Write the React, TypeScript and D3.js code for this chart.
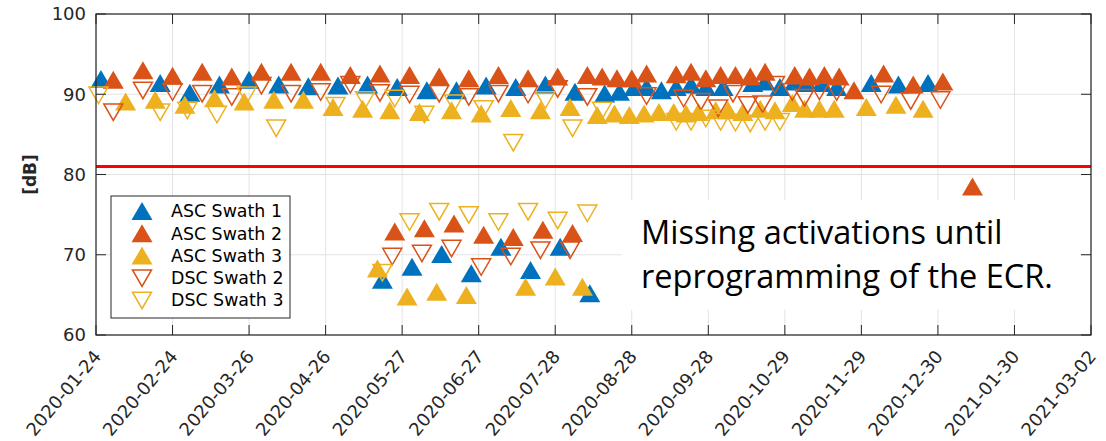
import React from 'react';
import * as d3 from 'd3';

// [date, level in dB]
const ascSwath1: [string, number][] = [
	['2020-01-26', 91.9], ['2020-02-19', 91.4], ['2020-03-02', 90.2], ['2020-03-14', 91.2],
	['2020-03-26', 91.8], ['2020-04-07', 91.2], ['2020-04-19', 91.0], ['2020-05-01', 91.1],
	['2020-05-13', 91.2], ['2020-05-25', 90.9], ['2020-06-06', 90.5], ['2020-06-18', 90.5],
	['2020-06-30', 91.1], ['2020-07-12', 90.9], ['2020-07-24', 91.2], ['2020-08-05', 90.3],
	['2020-08-17', 90.1], ['2020-08-23', 90.3], ['2020-08-29', 90.9], ['2020-09-03', 90.9],
	['2020-09-09', 90.5], ['2020-09-15', 90.9], ['2020-09-21', 91.2], ['2020-09-27', 90.9],
	['2020-10-04', 90.9], ['2020-10-16', 91.4], ['2020-10-21', 91.6], ['2020-10-27', 90.9],
	['2020-11-02', 91.6], ['2020-11-07', 91.4], ['2020-11-13', 91.4], ['2020-11-19', 90.9],
	['2020-12-03', 91.4], ['2020-12-14', 91.2], ['2020-12-26', 91.4],
	['2020-05-19', 66.9], ['2020-05-31', 68.5], ['2020-06-12', 70.1], ['2020-06-24', 67.7],
	['2020-07-06', 71.0], ['2020-07-18', 68.1], ['2020-07-30', 71.0], ['2020-08-11', 65.2],
];

const ascSwath2: [string, number][] = [
	['2020-01-31', 91.8], ['2020-02-12', 93.0], ['2020-02-24', 92.3], ['2020-03-07', 92.8],
	['2020-03-19', 92.2], ['2020-03-31', 92.8], ['2020-04-12', 92.8], ['2020-04-24', 92.8],
	['2020-05-06', 92.4], ['2020-05-18', 92.6], ['2020-05-30', 92.4], ['2020-06-11', 92.2],
	['2020-06-23', 92.0], ['2020-07-05', 92.4], ['2020-07-17', 92.0], ['2020-07-29', 92.2],
	['2020-08-10', 92.4], ['2020-08-16', 92.2], ['2020-08-22', 92.0], ['2020-08-28', 92.0],
	['2020-09-03', 92.6], ['2020-09-15', 92.5], ['2020-09-21', 92.8], ['2020-09-27', 92.0],
	['2020-10-03', 92.4], ['2020-10-09', 92.4], ['2020-10-15', 92.2], ['2020-10-21', 92.8],
	['2020-11-02', 92.4], ['2020-11-08', 92.2], ['2020-11-14', 92.4], ['2020-11-20', 92.2],
	['2020-11-26', 90.5], ['2020-12-08', 92.6], ['2020-12-20', 91.2], ['2021-01-01', 91.6],
	['2021-01-13', 78.5],
	['2020-05-24', 72.9], ['2020-06-05', 73.3], ['2020-06-17', 73.9], ['2020-06-29', 72.5],
	['2020-07-11', 72.2], ['2020-07-23', 73.1], ['2020-08-04', 72.7],
];

const ascSwath3: [string, number][] = [
	['2020-02-05', 89.1], ['2020-02-17', 89.3], ['2020-02-29', 88.7], ['2020-03-12', 89.5],
	['2020-03-24', 89.1], ['2020-04-05', 89.3], ['2020-04-17', 89.3], ['2020-04-29', 88.4],
	['2020-05-11', 88.2], ['2020-05-22', 88.0], ['2020-06-03', 87.8], ['2020-06-16', 88.0],
	['2020-06-28', 87.6], ['2020-07-10', 88.3], ['2020-07-22', 88.0], ['2020-08-03', 88.4],
	['2020-08-14', 87.4], ['2020-08-21', 87.6], ['2020-08-27', 87.4], ['2020-09-02', 87.6],
	['2020-09-08', 87.8], ['2020-09-14', 87.8], ['2020-09-19', 87.6], ['2020-09-24', 87.8],
	['2020-10-01', 88.0], ['2020-10-06', 88.0], ['2020-10-12', 87.8], ['2020-10-19', 88.2],
	['2020-10-25', 88.0], ['2020-11-01', 88.9], ['2020-11-06', 88.2], ['2020-11-12', 88.2],
	['2020-11-18', 88.2], ['2020-12-01', 88.4], ['2020-12-13', 88.7], ['2020-12-24', 88.2],
	['2020-05-17', 68.3], ['2020-05-29', 64.8], ['2020-06-10', 65.4], ['2020-06-22', 65.0],
	['2020-07-16', 66.0], ['2020-07-28', 67.3], ['2020-08-08', 66.0],
];

const dscSwath2: [string, number][] = [
	['2020-01-31', 87.8], ['2020-02-12', 90.5], ['2020-02-24', 90.3], ['2020-03-07', 90.1],
	['2020-03-19', 89.7], ['2020-03-31', 91.1], ['2020-04-12', 90.1], ['2020-04-24', 90.3],
	['2020-05-06', 91.2], ['2020-05-18', 90.2], ['2020-05-30', 90.0], ['2020-06-11', 90.1],
	['2020-06-23', 89.7], ['2020-07-05', 90.1], ['2020-07-17', 90.0], ['2020-07-29', 90.7],
	['2020-08-10', 89.7], ['2020-09-03', 89.8], ['2020-09-18', 89.5], ['2020-09-25', 89.1],
	['2020-10-02', 88.3], ['2020-10-08', 90.1], ['2020-10-14', 88.7], ['2020-10-20', 88.8],
	['2020-10-25', 91.2], ['2020-11-01', 90.3], ['2020-11-06', 89.6], ['2020-11-12', 90.4],
	['2020-11-19', 90.3], ['2020-12-07', 90.0], ['2020-12-19', 89.2], ['2020-12-31', 89.3],
	['2020-05-23', 69.8], ['2020-06-04', 70.2], ['2020-06-16', 70.8], ['2020-06-28', 68.5],
	['2020-07-10', 69.8], ['2020-07-22', 70.6], ['2020-08-03', 70.6],
];

const dscSwath3: [string, number][] = [
	['2020-01-25', 89.9], ['2020-02-19', 87.8], ['2020-03-01', 88.0], ['2020-03-13', 87.5],
	['2020-03-25', 89.9], ['2020-04-06', 85.8], ['2020-04-30', 88.6], ['2020-05-12', 89.3],
	['2020-05-24', 89.5], ['2020-06-05', 87.5], ['2020-06-17', 88.9], ['2020-06-29', 88.2],
	['2020-07-11', 84.0], ['2020-07-24', 89.3], ['2020-08-04', 85.8], ['2020-08-16', 88.0],
	['2020-09-15', 86.6], ['2020-09-21', 86.6], ['2020-09-27', 87.0], ['2020-10-03', 86.6],
	['2020-10-09', 86.5], ['2020-10-15', 86.4], ['2020-10-21', 86.6], ['2020-10-27', 86.6],
	['2020-05-19', 67.8], ['2020-05-30', 74.1], ['2020-06-11', 75.4], ['2020-06-23', 75.0],
	['2020-07-05', 74.1], ['2020-07-17', 75.4], ['2020-07-29', 74.3], ['2020-08-10', 75.2],
];

const xTicks = [
	'2020-01-24', '2020-02-24', '2020-03-26', '2020-04-26', '2020-05-27', '2020-06-27',
	'2020-07-28', '2020-08-28', '2020-09-28', '2020-10-29', '2020-11-29', '2020-12-30',
	'2021-01-30', '2021-03-02',
];
const yTicks = [60, 70, 80, 90, 100];
const threshold = 81;
const noteLines = ['Missing activations until', 'reprogramming of the ECR.'];

const BLUE = '#0072BD';
const ORANGE = '#D95319';
const YELLOW = '#EDB120';

const series = [
	{ name: 'ASC Swath 1', data: ascSwath1, color: BLUE, up: true },
	{ name: 'ASC Swath 2', data: ascSwath2, color: ORANGE, up: true },
	{ name: 'ASC Swath 3', data: ascSwath3, color: YELLOW, up: true },
	{ name: 'DSC Swath 2', data: dscSwath2, color: ORANGE, up: false },
	{ name: 'DSC Swath 3', data: dscSwath3, color: YELLOW, up: false },
];

const parse = d3.utcParse('%Y-%m-%d');
const upPath = 'M0,-9L10.5,9L-10.5,9Z';
const downPath = 'M-9.5,-8L9.5,-8L0,8.5Z';

const Marker: React.FC<{ x: number; y: number; color: string; up: boolean }> = ({ x, y, color, up }) =>
	up ? (
		<path d={upPath} transform={`translate(${x},${y})`} fill={color} />
	) : (
		<path d={downPath} transform={`translate(${x},${y})`} fill="none" stroke={color} strokeWidth={1.5} />
	);

const App: React.FC = () => {
	const width = 1106;
	const height = 441;
	const margin = { top: 14, right: 15, bottom: 106, left: 96 };
	const x0 = margin.left;
	const x1 = width - margin.right;
	const y0 = margin.top;
	const y1 = height - margin.bottom;

	const xScale = d3
		.scaleUtc()
		.domain([parse(xTicks[0])!, parse(xTicks[xTicks.length - 1])!])
		.range([x0, x1]);
	const yScale = d3.scaleLinear().domain([60, 100]).range([y1, y0]);

	const axisColor = '#262626';
	const gridColor = '#e3e3e3';
	const font = 'DejaVu Sans, sans-serif';

	const legend = { x: 111, y: 196, w: 179, h: 122, row: 22.3 };

	return (
		<svg width={width} height={height} style={{ position: 'absolute', left: 0, top: 0 }} fontFamily={font}>
			<rect width={width} height={height} fill="#fff" />
			{/* grid */}
			{xTicks.map((t) => (
				<line key={t} x1={xScale(parse(t)!)} x2={xScale(parse(t)!)} y1={y0} y2={y1} stroke={gridColor} strokeWidth={1} />
			))}
			{yTicks.map((t) => (
				<line key={t} x1={x0} x2={x1} y1={yScale(t)} y2={yScale(t)} stroke={gridColor} strokeWidth={1} />
			))}

			{/* threshold */}
			<line x1={x0} x2={x1} y1={yScale(threshold)} y2={yScale(threshold)} stroke="#ff0000" strokeWidth={3} />

			{/* markers */}
			{series.map((s) => (
				<g key={s.name}>
					{s.data.map(([d, v], i) => (
						<Marker key={i} x={xScale(parse(d)!)} y={yScale(v)} color={s.color} up={s.up} />
					))}
				</g>
			))}

			{/* note box */}
			<rect x={622} y={200} width={458} height={110} fill="#fff" />
			{noteLines.map((l, i) => (
				<text key={l} x={641} y={244 + i * 44} fontFamily="Open Sans, sans-serif" fontSize={32.5} fill="#000">
					{l}
				</text>
			))}

			{/* axes box + ticks */}
			<rect x={x0} y={y0} width={x1 - x0} height={y1 - y0} fill="none" stroke={axisColor} strokeWidth={1.2} />
			{xTicks.map((t) => {
				const x = xScale(parse(t)!);
				return (
					<g key={t}>
						<line x1={x} x2={x} y1={y1} y2={y1 - 10} stroke={axisColor} />
						<line x1={x} x2={x} y1={y0} y2={y0 + 10} stroke={axisColor} />
						<text
							transform={`translate(${x + 6},${y1 + 22}) rotate(-50)`}
							textAnchor="end"
							fontSize={18}
							fill={axisColor}>
							{t}
						</text>
					</g>
				);
			})}
			{yTicks.map((t) => (
				<g key={t}>
					<line x1={x0} x2={x0 + 10} y1={yScale(t)} y2={yScale(t)} stroke={axisColor} />
					<line x1={x1} x2={x1 - 10} y1={yScale(t)} y2={yScale(t)} stroke={axisColor} />
					<text x={x0 - 10} y={yScale(t)} dy="0.35em" textAnchor="end" fontSize={18} fill={axisColor}>
						{t}
					</text>
				</g>
			))}
			<text
				transform={`translate(36,${(y0 + y1) / 2}) rotate(-90)`}
				textAnchor="middle"
				fontSize={17}
				fontWeight="bold"
				fill={axisColor}>
				[dB]
			</text>

			{/* legend */}
			<rect x={legend.x} y={legend.y} width={legend.w} height={legend.h} fill="#fff" stroke={axisColor} strokeWidth={1} />
			{series.map((s, i) => {
				const cy = legend.y + 15 + i * legend.row;
				return (
					<g key={s.name}>
						<Marker x={legend.x + 31} y={cy} color={s.color} up={s.up} />
						<text x={legend.x + 60} y={cy} dy="0.36em" fontSize={17.4} fill="#000">
							{s.name}
						</text>
					</g>
				);
			})}
		</svg>
	);
};

export default App;
